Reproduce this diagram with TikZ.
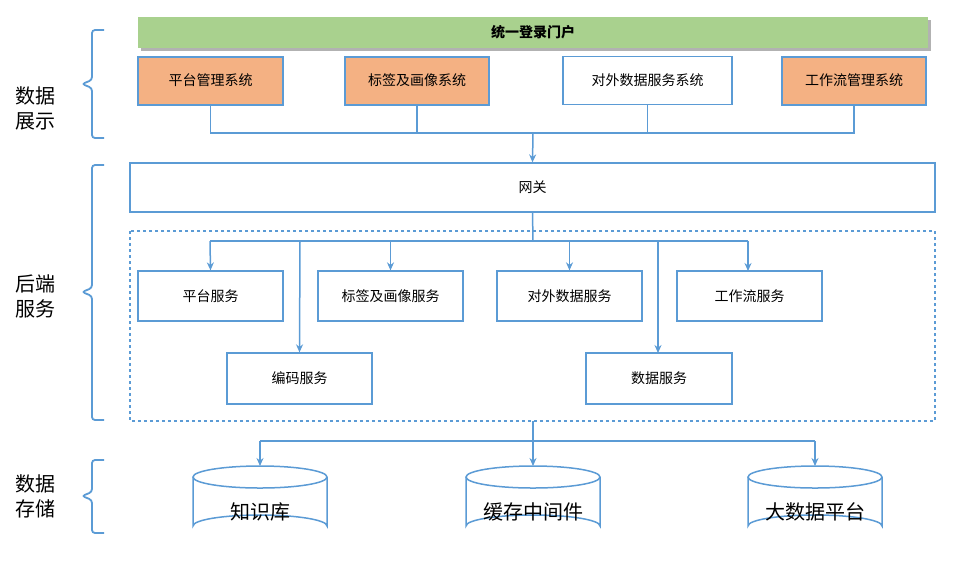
\documentclass[tikz,border=0pt]{standalone}
\usepackage{fontspec}
\setmainfont{Noto Sans CJK SC}
\usetikzlibrary{arrows.meta}
\definecolor{bl}{HTML}{5B9BD5}
\definecolor{gr}{HTML}{A9D18E}
\definecolor{og}{HTML}{F4B183}
\begin{document}
\begin{tikzpicture}[x=1pt,y=-1pt,
 box/.style={draw=bl,line width=1.3pt,fill=white,minimum height=48pt,inner sep=0pt,font=\fontsize{14}{16}\selectfont},
 obox/.style={box,fill=og,line width=2pt},
 ln/.style={draw=bl,line width=1.5pt},
 ar/.style={ln,-{Stealth[length=8pt,width=7pt]}},
 cyltxt/.style={font=\fontsize{20}{24}\selectfont,inner sep=0pt},
 brace/.style={draw=bl,line width=1.8pt,rounded corners=3pt},
 lab/.style={font=\fontsize{20}{25}\selectfont,align=left}]
\useasboundingbox (0,0) rectangle (955,566);
\fill[gray!60] (141,20) rectangle (931,51);
\node[fill=gr,minimum width=790pt,minimum height=31pt,inner sep=0pt,font=\bfseries\fontsize{14}{16}\selectfont] (portal) at (533,32.5) {统一登录门户};
\node[obox,minimum width=145pt] (p1) at (210.5,80.5) {平台管理系统};
\node[obox,minimum width=144pt] (p2) at (417,80.5) {标签及画像系统};
\node[box,minimum width=169pt] (p3) at (647.5,80.5) {对外数据服务系统};
\node[obox,minimum width=144pt] (p4) at (854,80.5) {工作流管理系统};
\node[box,minimum width=805pt,minimum height=49pt] (gw) at (532.5,187.5) {网关};
\draw[bl,line width=1.3pt,dashed] (130,231) rectangle (935,421);
\coordinate (dbot) at (533,421);
\node[box,minimum width=145pt,minimum height=50pt] (s1) at (210.5,296) {平台服务};
\node[box,minimum width=145pt,minimum height=50pt] (s2) at (390.5,296) {标签及画像服务};
\node[box,minimum width=145pt,minimum height=50pt] (s3) at (569.5,296) {对外数据服务};
\node[box,minimum width=145pt,minimum height=50pt] (s4) at (749.5,296) {工作流服务};
\node[box,minimum width=145pt,minimum height=51pt] (s5) at (299.5,378.5) {编码服务};
\node[box,minimum width=146pt,minimum height=51pt] (s6) at (659,378.5) {数据服务};
% cylinders
\foreach \cx/\nm/\tx in {260/c1/知识库,533/c2/缓存中间件,815/c3/大数据平台}{
 \draw[bl,line width=1.5pt,fill=white] (\cx-67,477) -- (\cx-67,526) arc[start angle=180,end angle=360,x radius=67,y radius=11] -- (\cx+67,477);
 \draw[bl,line width=1.5pt,fill=white] (\cx,477) ellipse[x radius=67,y radius=11];
 \coordinate (\nm) at (\cx,466);
 \node[cyltxt] (\nm t) at (\cx,512) {\tx};
}
% top connectors
\coordinate (h1) at (210,133);
\coordinate (h2) at (854,133);
\draw[ln] (p1.south) |- (h1) -- (h2) -- (p4.south);
\draw[ln] (p2.south) -- (p2.south |- h1);
\draw[ln] (p3.south) -- (p3.south |- h1);
\draw[ar] (533,133) -- (gw.north);
% gateway to services
\coordinate (g1) at (210,241);
\draw[ln] (gw.south) -- (533,241);
\draw[ar] (210,241) -- (s1.north);
\draw[ln] (210,241) -- (748,241);
\draw[ar] (s2.north |- g1) -- (s2.north);
\draw[ar] (s3.north |- g1) -- (s3.north);
\draw[ar] (748,241) -- (748,271);
\draw[ar] (300,241) -- (s5.north);
\draw[ar] (658,241) -- (658,353);
% storage
\draw[ln] (dbot) -- (533,441);
\draw[ln] (260,441) -- (815,441);
\draw[ar] (260,441) -- (c1);
\draw[ar] (533,441) -- (c2);
\draw[ar] (815,441) -- (c3);
% braces
\draw[brace] (104,30) -- (92,30) -- (92,80) -- (82,84) -- (92,88) -- (92,138) -- (104,138);
\draw[brace] (104,165) -- (92,165) -- (92,288) -- (82,292) -- (92,296) -- (92,420) -- (104,420);
\draw[brace] (104,460) -- (92,460) -- (92,492) -- (82,496) -- (92,500) -- (92,533) -- (104,533);
\node[lab] (l1) at (35,108) {数据\\展示};
\node[lab] (l2) at (35,296) {后端\\服务};
\node[lab] (l3) at (35,496) {数据\\存储};
\end{tikzpicture}
\end{document}
